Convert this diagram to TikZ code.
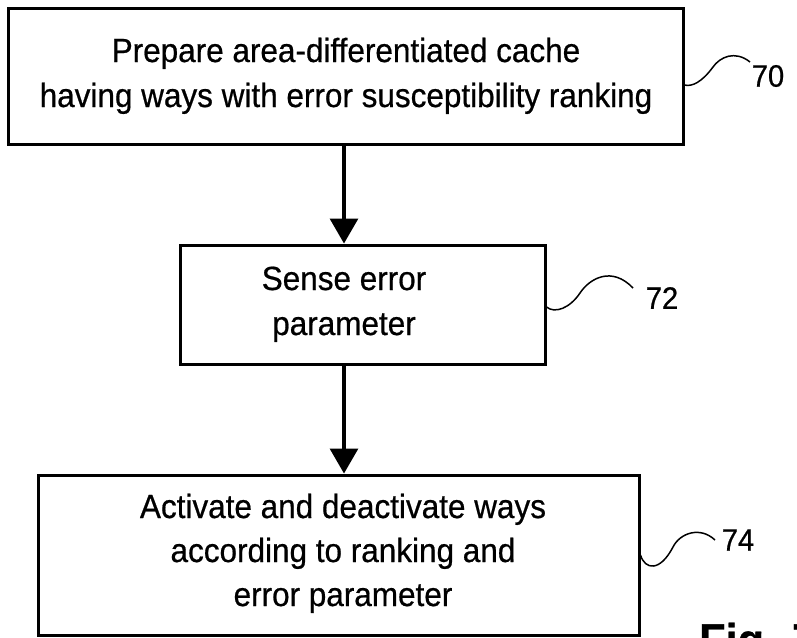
\documentclass[tikz,border=0pt]{standalone}
\usepackage{fontspec}
\setmainfont{Liberation Sans}[FakeStretch=0.94,FakeBold=0.6]
\usetikzlibrary{arrows.meta}
\begin{document}
\begin{tikzpicture}[x=1pt,y=-1pt,
  box/.style={draw, line width=3pt, rectangle, inner sep=0pt},
  lbl/.style={align=center, anchor=base, inner sep=0pt},
  refnum/.style={font=\fontsize{31}{36}\selectfont, inner sep=0pt},
  arr/.style={line width=3.2pt, -{Triangle[width=28pt,length=25pt]}},
  sq/.style={line width=1.5pt}]
\useasboundingbox (0,0) rectangle (797,637);
\clip (0,0) rectangle (797,637);
\fill[white] (0,0) rectangle (797,637);

% boxes
\node[box, minimum width=675pt, minimum height=136pt] (b1) at (345.5,76) {};
\node[box, minimum width=365pt, minimum height=119pt] (b2) at (362.5,304.5) {};
\node[box, minimum width=601pt, minimum height=160pt] (b3) at (338.5,555) {};

% texts (anchor = baseline of the last line)
\node[lbl, font=\fontsize{33.5}{45}\selectfont] (t1) at (346,107)
  {Prepare area-differentiated cache\\having ways with error susceptibility ranking};
\node[lbl, font=\fontsize{33.5}{45}\selectfont] (t2) at (344,335)
  {Sense error\\parameter};
\node[lbl, font=\fontsize{33.5}{44}\selectfont] (t3) at (343,606)
  {Activate and deactivate ways\\according to ranking and\\error parameter};

% arrows
\draw[arr] (b1.south -| t2) -- (b2.north -| t2);
\draw[arr] (b2.south -| t2) -- (b3.north -| t2);

% reference numerals
\node[refnum] (n70) at (768,76) {70};
\node[refnum] (n72) at (662,298) {72};
\node[refnum] (n74) at (738,540) {74};
\coordinate (e70) at (750,62);
\coordinate (e72) at (633,288);
\coordinate (e74) at (715,540);
\draw[sq] ([yshift=-9pt]b1.east) .. controls (692,87) and (702,82) .. (713,67)
  .. controls (720,57) and (735,50) .. (e70);
\draw[sq] ([yshift=-2.5pt]b2.east) .. controls (555,314) and (570,308) .. (580,293)
  .. controls (590,278) and (612,266) .. (e72);
\draw[sq] (b3.east) .. controls (645,570) and (660,572) .. (673,547)
  .. controls (680,533) and (700,526) .. (e74);

% figure caption (cut off at the lower edge)
\node[font=\fontsize{46}{50}\selectfont\bfseries, anchor=base west, inner sep=0pt] (fig) at (699,656) {Fig. 7};
\end{tikzpicture}
\end{document}
